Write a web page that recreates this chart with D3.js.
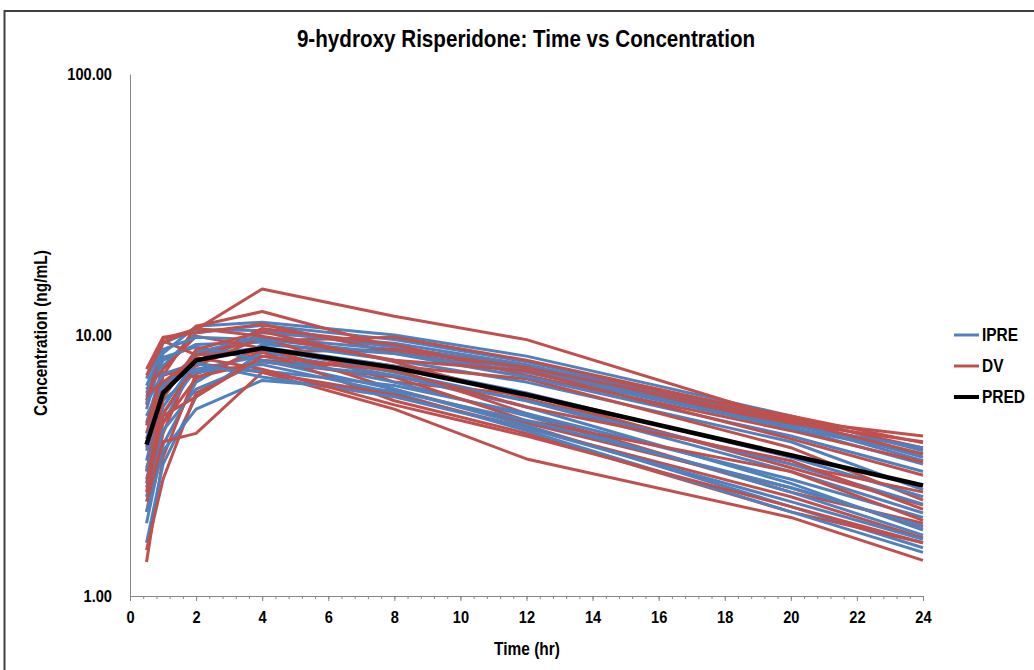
<!DOCTYPE html>
<html>
<head>
<meta charset="utf-8">
<script src="https://cdn.jsdelivr.net/npm/d3@7"></script>
<style>
  body { margin: 0; background: #fff; }
  text { font-family: "Liberation Sans", Arial, sans-serif; font-weight: bold; fill: #000; }
</style>
</head>
<body>
<div id="chart"></div>
<script>
// sampling times (hr)
let times = [0.5, 1, 2, 4, 8, 12, 20, 24];

// individual predictions, one row per subject
let ipre = [
    [5.2, 8.5, 10.8, 11.2, 10.0, 8.3, 4.9, 3.6],
    [4.6, 7.6, 10.2, 10.9, 9.6, 7.9, 4.7, 3.4],
    [2.4, 4.6, 7.8, 10.2, 9.3, 7.7, 4.6, 3.3],
    [6.8, 9.3, 10.5, 10.4, 9.0, 7.5, 4.5, 3.7],
    [3.3, 5.9, 8.6, 9.8, 8.8, 7.4, 4.4, 3.2],
    [1.9, 3.8, 6.6, 9.2, 8.5, 7.2, 4.4, 3.5],
    [5.8, 8.0, 9.2, 9.4, 8.0, 6.6, 3.9, 2.55],
    [4.0, 6.4, 8.4, 8.9, 7.2, 5.6, 3.0, 2.08],
    [1.6, 3.2, 5.8, 8.6, 7.0, 5.3, 2.7, 1.79],
    [2.8, 5.0, 7.4, 8.3, 6.6, 4.9, 2.5, 1.71],
    [6.0, 8.2, 9.0, 8.0, 6.2, 4.5, 2.2, 1.53],
    [3.6, 5.6, 7.2, 7.7, 6.0, 4.3, 2.1, 1.47],
    [4.9, 6.6, 7.4, 7.3, 6.4, 5.0, 2.8, 2.0],
    [2.1, 3.6, 5.2, 6.7, 6.1, 4.7, 2.6, 1.85],
    [6.4, 8.8, 9.8, 9.6, 8.5, 6.9, 4.1, 3.0],
    [3.0, 5.3, 8.0, 9.0, 7.6, 6.0, 3.4, 2.4],
    [5.5, 7.1, 7.8, 6.9, 5.8, 4.4, 2.3, 1.65],
    [2.6, 4.3, 6.2, 7.9, 7.0, 5.6, 3.2, 2.25]
];

// observed concentrations
let dv = [
    [5.6, 9.7, 10.5, 15.0, 11.8, 9.6, 4.7, 4.1],
    [4.2, 7.0, 10.8, 12.3, 9.0, 7.6, 4.9, 3.86],
    [2.1, 4.2, 8.5, 9.5, 9.8, 8.0, 4.8, 3.69],
    [7.4, 9.8, 10.2, 11.0, 8.6, 7.2, 4.6, 3.9],
    [3.0, 6.3, 7.9, 10.6, 9.2, 7.0, 4.3, 3.26],
    [1.35, 3.4, 7.1, 8.6, 8.8, 7.5, 4.7, 3.5],
    [6.2, 7.4, 9.9, 8.9, 7.6, 6.8, 3.7, 2.33],
    [3.7, 7.0, 7.6, 9.8, 6.6, 5.9, 3.1, 2.23],
    [1.5, 2.8, 6.0, 8.0, 7.4, 5.0, 2.5, 1.90],
    [3.1, 4.6, 6.8, 9.0, 6.2, 4.6, 2.6, 1.84],
    [5.4, 9.5, 8.4, 8.6, 5.6, 4.2, 2.1, 1.60],
    [3.9, 5.0, 7.8, 7.2, 5.2, 3.35, 2.0, 1.37],
    [4.5, 7.2, 6.9, 7.9, 6.9, 4.7, 3.0, 1.95],
    [2.3, 3.9, 4.2, 7.2, 5.9, 4.4, 2.4, 1.67],
    [7.0, 9.4, 10.6, 9.9, 8.0, 7.3, 4.0, 2.9],
    [2.7, 5.7, 8.8, 10.3, 7.9, 5.7, 3.2, 2.5],
    [5.9, 6.6, 8.2, 7.4, 5.4, 4.1, 2.2, 1.6],
    [2.5, 4.9, 5.8, 8.3, 7.3, 5.3, 3.3, 2.15]
];

// population prediction
let pred = [3.8, 6.0, 8.0, 8.9, 7.5, 5.9, 3.46, 2.65];

let xTicks = [0, 2, 4, 6, 8, 10, 12, 14, 16, 18, 20, 22, 24];
let yTicks = [1, 10, 100];
let legendNames = ["IPRE", "DV", "PRED"];
let colors = ["#4F81BD", "#C0504D", "#000000"];

let svgWidth = 1034;
let svgHeight = 670;

let margin = { top: 74, right: 111, bottom: 74, left: 130 };
let width = svgWidth - margin.left - margin.right;
let height = svgHeight - margin.top - margin.bottom;

// narrow look, similar to the original Calibri text
let squeeze = 0.86;

let svg = d3.select("#chart")
    .append("svg")
    .attr("width", svgWidth)
    .attr("height", svgHeight);

// outer chart frame
svg.append("rect")
    .attr("x", 4.5).attr("y", 11)
    .attr("width", svgWidth + 20).attr("height", svgHeight + 20)
    .attr("fill", "none")
    .attr("stroke", "#404040")
    .attr("stroke-width", 2);

let chartGroup = svg.append("g")
    .attr("transform", `translate(${margin.left}, ${margin.top})`);

let xScale = d3.scaleLinear().domain([0, 24]).range([0, width]);
let yScale = d3.scaleLog().domain([1, 100]).range([height, 0]);

// minor ticks on x axis
let minor = d3.range(0, 24.01, 0.4);
chartGroup.append("g")
    .attr("transform", `translate(0, ${height})`)
    .call(d3.axisBottom(xScale).tickValues(minor).tickSize(3).tickFormat(""))
    .call(g => g.select(".domain").remove())
    .selectAll("line").attr("stroke", "#868686");

let xAxis = chartGroup.append("g")
    .attr("transform", `translate(0, ${height})`)
    .call(d3.axisBottom(xScale).tickValues(xTicks).tickSize(5).tickSizeOuter(0).tickPadding(10).tickFormat(d3.format("d")));
xAxis.select(".domain").attr("stroke", "#868686");
xAxis.selectAll("line").attr("stroke", "#868686");
xAxis.selectAll("text")
    .attr("font-size", 17).attr("font-family", null)
    .attr("transform", `scale(${squeeze},1)`);

let yAxis = chartGroup.append("g")
    .call(d3.axisLeft(yScale).tickValues(yTicks).tickSize(0).tickPadding(18).tickFormat(d3.format(".2f")));
yAxis.select(".domain").attr("stroke", "#868686");
yAxis.selectAll("text")
    .attr("font-size", 17).attr("font-family", null)
    .attr("x", -18 / squeeze)
    .attr("transform", `scale(${squeeze},1)`);

let line = d3.line()
    .x((d, i) => xScale(times[i]))
    .y(d => yScale(d));

// subject lines, predictions then observations
ipre.forEach(function (row, i) {
    chartGroup.append("path")
        .attr("d", line(row))
        .attr("fill", "none")
        .attr("stroke", colors[0])
        .attr("stroke-width", 3)
        .attr("stroke-linejoin", "round");
    chartGroup.append("path")
        .attr("d", line(dv[i]))
        .attr("fill", "none")
        .attr("stroke", colors[1])
        .attr("stroke-width", 3)
        .attr("stroke-linejoin", "round");
});

chartGroup.append("path")
    .attr("d", line(pred))
    .attr("fill", "none")
    .attr("stroke", colors[2])
    .attr("stroke-width", 4.5)
    .attr("stroke-linejoin", "round");

// titles
svg.append("text")
    .attr("transform", `translate(526, 47) scale(${squeeze},1)`)
    .attr("text-anchor", "middle")
    .attr("font-size", 24)
    .text("9-hydroxy Risperidone: Time vs Concentration");

svg.append("text")
    .attr("transform", `translate(527, 655) scale(${squeeze},1)`)
    .attr("text-anchor", "middle")
    .attr("font-size", 18)
    .text("Time (hr)");

svg.append("text")
    .attr("transform", `translate(47, 333) rotate(-90) scale(${squeeze},1)`)
    .attr("text-anchor", "middle")
    .attr("font-size", 18)
    .text("Concentration (ng/mL)");

// legend
let legend = svg.append("g").attr("transform", "translate(954, 335)");
legendNames.forEach(function (name, i) {
    legend.append("line")
        .attr("x1", 0).attr("x2", 25)
        .attr("y1", i * 31).attr("y2", i * 31)
        .attr("stroke", colors[i])
        .attr("stroke-width", i === 2 ? 4 : 3);
    legend.append("text")
        .attr("transform", `translate(28, ${i * 31 + 6}) scale(${squeeze},1)`)
        .attr("font-size", 18)
        .text(name);
});
</script>
</body>
</html>
